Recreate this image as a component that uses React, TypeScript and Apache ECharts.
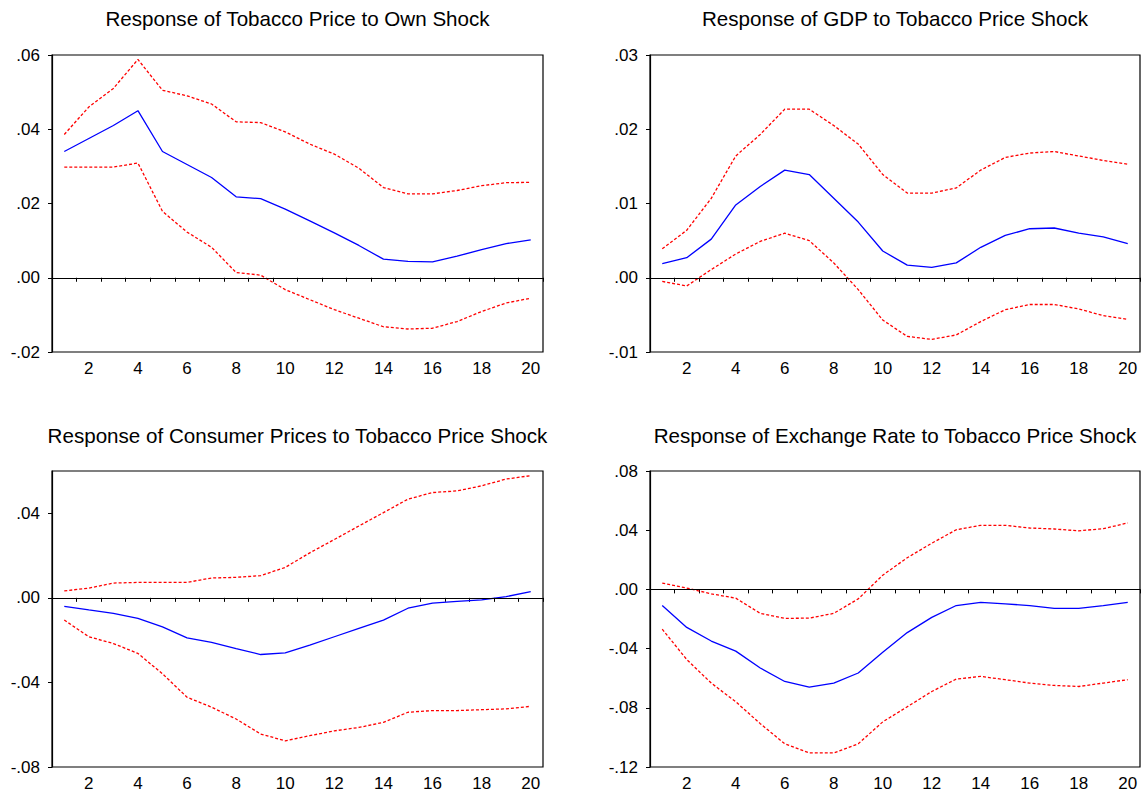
import React, { useEffect, useRef } from "react";
import * as echarts from "echarts";

const periods = ["1","2","3","4","5","6","7","8","9","10","11","12","13","14","15","16","17","18","19","20"];

const titles = [
  "Response of Tobacco Price to Own Shock",
  "Response of GDP to Tobacco Price Shock",
  "Response of Consumer Prices to Tobacco Price Shock",
  "Response of Exchange Rate to Tobacco Price Shock",
];

// Panel 1: Tobacco price to own shock
const tobaccoResp = [0.034, 0.0375, 0.041, 0.045, 0.034, 0.0305, 0.027, 0.0218, 0.0213, 0.0185, 0.0153, 0.0121, 0.0087, 0.005, 0.0044, 0.0043, 0.0058, 0.0076, 0.0092, 0.0102];
const tobaccoUpper = [0.0386, 0.046, 0.051, 0.0588, 0.0505, 0.049, 0.0468, 0.042, 0.0418, 0.0393, 0.036, 0.0333, 0.0295, 0.0243, 0.0226, 0.0226, 0.0235, 0.0248, 0.0256, 0.0257];
const tobaccoLower = [0.0298, 0.0298, 0.0298, 0.0309, 0.0179, 0.0123, 0.0082, 0.0014, 0.0007, -0.0032, -0.0059, -0.0086, -0.0109, -0.0132, -0.0138, -0.0136, -0.0118, -0.0091, -0.0068, -0.0055];

// Panel 2: GDP
const gdpResp = [0.0019, 0.0027, 0.0052, 0.0098, 0.0123, 0.0145, 0.0139, 0.0107, 0.0075, 0.0036, 0.0017, 0.0014, 0.002, 0.0041, 0.0057, 0.0066, 0.0067, 0.006, 0.0055, 0.0046];
const gdpUpper = [0.0039, 0.0064, 0.0107, 0.0164, 0.0193, 0.0227, 0.0227, 0.0205, 0.018, 0.0139, 0.0114, 0.0114, 0.0121, 0.0145, 0.0162, 0.0168, 0.017, 0.0164, 0.0158, 0.0153];
const gdpLower = [-0.0005, -0.0011, 0.0011, 0.0032, 0.0049, 0.006, 0.005, 0.002, -0.0016, -0.0057, -0.0079, -0.0083, -0.0077, -0.0059, -0.0043, -0.0036, -0.0036, -0.0042, -0.0051, -0.0056];

// Panel 3: Consumer prices
const cpiResp = [-0.004, -0.0057, -0.0073, -0.0097, -0.0137, -0.0189, -0.0211, -0.024, -0.0268, -0.026, -0.0224, -0.0184, -0.0144, -0.0105, -0.0049, -0.0025, -0.0017, -0.001, 0.0006, 0.003];
const cpiUpper = [0.0033, 0.0046, 0.007, 0.0073, 0.0073, 0.0073, 0.0094, 0.0097, 0.0105, 0.0144, 0.0213, 0.0276, 0.034, 0.0403, 0.0467, 0.0498, 0.0506, 0.053, 0.0562, 0.0578];
const cpiLower = [-0.0105, -0.0184, -0.0216, -0.0263, -0.0359, -0.047, -0.0517, -0.0573, -0.0644, -0.0676, -0.0652, -0.0629, -0.0613, -0.0589, -0.0541, -0.0533, -0.0533, -0.0529, -0.0525, -0.0513];

// Panel 4: Exchange rate
const fxResp = [-0.0109, -0.0257, -0.0349, -0.0417, -0.0531, -0.0622, -0.0661, -0.0633, -0.0565, -0.0425, -0.0292, -0.0189, -0.0109, -0.0087, -0.0098, -0.0109, -0.0128, -0.0128, -0.0109, -0.0087];
const fxUpper = [0.0043, 0.0009, -0.003, -0.0059, -0.0162, -0.0196, -0.0194, -0.0162, -0.0064, 0.0096, 0.0214, 0.0312, 0.0403, 0.0433, 0.0433, 0.0415, 0.0408, 0.0396, 0.041, 0.0449];
const fxLower = [-0.0269, -0.0474, -0.0633, -0.0759, -0.0907, -0.1043, -0.1105, -0.1105, -0.1043, -0.0895, -0.0793, -0.069, -0.0606, -0.0588, -0.061, -0.0633, -0.0649, -0.0656, -0.0633, -0.061];

// Axis tick values
const yTicks1 = [-0.02, 0, 0.02, 0.04, 0.06];
const yTicks2 = [-0.01, 0, 0.01, 0.02, 0.03];
const yTicks3 = [-0.08, -0.04, 0, 0.04];
const yTicks4 = [-0.12, -0.08, -0.04, 0, 0.04, 0.08];
const yRanges = [
  [-0.02, 0.06],
  [-0.01, 0.03],
  [-0.08, 0.06],
  [-0.12, 0.08],
];

const FONT = "'Liberation Sans', Arial, sans-serif";

export default function App() {
  const ref = useRef<HTMLDivElement>(null);

  useEffect(() => {
    document.body.style.margin = "0";
    if (!ref.current) return;
    const chart = echarts.init(ref.current, null, { renderer: "svg" });

    const panels = [
      { resp: tobaccoResp, up: tobaccoUpper, lo: tobaccoLower, ticks: yTicks1 },
      { resp: gdpResp, up: gdpUpper, lo: gdpLower, ticks: yTicks2 },
      { resp: cpiResp, up: cpiUpper, lo: cpiLower, ticks: yTicks3 },
      { resp: fxResp, up: fxUpper, lo: fxLower, ticks: yTicks4 },
    ];
    const grids = [
      { left: 52, top: 55, width: 491, height: 297 },
      { left: 650, top: 55, width: 490, height: 297 },
      { left: 52, top: 471, width: 491, height: 296 },
      { left: 650, top: 471, width: 490, height: 296 },
    ];
    const fmt = (v: number) => v.toFixed(2).replace("0.", ".");

    const series: any[] = [];
    panels.forEach((p, i) => {
      series.push({
        type: "line",
        xAxisIndex: i,
        yAxisIndex: i,
        data: p.up,
        symbol: "none",
        lineStyle: { color: "#ff0000", width: 1.3, type: [3, 2] },
        z: 3,
      });
      series.push({
        type: "line",
        xAxisIndex: i,
        yAxisIndex: i,
        data: p.lo,
        symbol: "none",
        lineStyle: { color: "#ff0000", width: 1.3, type: [3, 2] },
        z: 3,
      });
      series.push({
        type: "line",
        xAxisIndex: i,
        yAxisIndex: i,
        data: p.resp,
        symbol: "none",
        lineStyle: { color: "#0000ff", width: 1.3 },
        z: 4,
        markLine: {
          silent: true,
          symbol: "none",
          label: { show: false },
          lineStyle: { color: "#000", width: 1.2, type: "solid" },
          data: [{ yAxis: 0 }],
        },
      });
    });

    const option: any = {
      animation: false,
      backgroundColor: "#fff",
      textStyle: { fontFamily: FONT },
      grid: grids.map((g) => ({ ...g, show: true, borderColor: "#000", borderWidth: 1.2, containLabel: false })),
      xAxis: grids.map((_, i) => ({
        type: "category",
        gridIndex: i,
        data: periods,
        boundaryGap: true,
        axisLine: { show: true, lineStyle: { color: "#000", width: 1.2 } },
        axisTick: { show: true, interval: 0, length: 4, lineStyle: { color: "#000" } },
        axisLabel: {
          interval: (idx: number) => idx % 2 === 1,
          color: "#000",
          fontSize: 17,
          fontFamily: FONT,
          margin: 8,
        },
        splitLine: { show: false },
      })),
      yAxis: panels.map((p, i) => ({
        type: "value",
        gridIndex: i,
        min: yRanges[i][0],
        max: yRanges[i][1],
        interval: i === 2 ? 0.04 : p.ticks[1] - p.ticks[0],
        axisLine: { show: true, lineStyle: { color: "#000", width: 1.2 } },
        axisTick: { show: true, length: 4, lineStyle: { color: "#000" }, customValues: p.ticks },
        axisLabel: {
          color: "#000",
          fontSize: 17,
          fontFamily: FONT,
          margin: 12,
          formatter: fmt,
          customValues: p.ticks,
        },
        splitLine: { show: false },
      })),
      graphic: titles.map((t, i) => ({
        type: "text",
        x: grids[i].left + grids[i].width / 2,
        y: i < 2 ? 18 : 435,
        style: {
          text: t,
          fontSize: 20.6,
          fontFamily: FONT,
          fill: "#000",
          textAlign: "center",
          textVerticalAlign: "middle",
        },
      })),
      series,
    };

    chart.setOption(option);
    return () => chart.dispose();
  }, []);

  return <div ref={ref} style={{ width: 1142, height: 796 }} />;
}
